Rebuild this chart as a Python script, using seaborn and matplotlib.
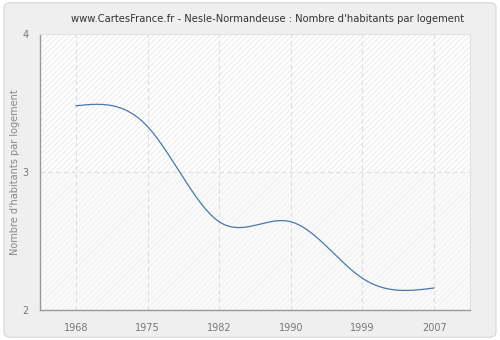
import numpy as np
import pandas as pd
import matplotlib
matplotlib.use("Agg")
import matplotlib.pyplot as plt
import seaborn as sns
from matplotlib.patches import Rectangle, FancyBboxPatch

# Census years and average number of inhabitants per dwelling
years = ["1968", "1975", "1982", "1990", "1999", "2007"]
habitants_par_logement = [3.48, 3.33, 2.64, 2.64, 2.23, 2.16]
y_ticks = [2, 3, 4]

title = "www.CartesFrance.fr - Nesle-Normandeuse : Nombre d'habitants par logement"
y_label = "Nombre d'habitants par logement"


def natural_cubic_spline(values, steps=40):
    """Smooth curve through equally spaced points (natural cubic spline)."""
    y = np.asarray(values, dtype=float)
    n = len(y)
    a = np.zeros((n, n))
    b = np.zeros(n)
    a[0, 0] = a[-1, -1] = 1.0
    for i in range(1, n - 1):
        a[i, i - 1], a[i, i], a[i, i + 1] = 1.0, 4.0, 1.0
        b[i] = 6.0 * (y[i + 1] - 2 * y[i] + y[i - 1])
    m = np.linalg.solve(a, b)
    xs, ys = [], []
    for i in range(n - 1):
        s = np.linspace(0, 1, steps, endpoint=(i == n - 2))
        r = 1 - s
        seg = (y[i] * r + y[i + 1] * s
               + (r ** 3 - r) * m[i] / 6 + (s ** 3 - s) * m[i + 1] / 6)
        xs.append(i + s)
        ys.append(seg)
    return np.concatenate(xs), np.concatenate(ys)


sns.set_theme(style="white")
plt.rcParams["font.family"] = ["DejaVu Sans"]
plt.rcParams["hatch.linewidth"] = 0.6

fig = plt.figure(figsize=(5.0, 3.4), dpi=100, facecolor="white")
fig.patches.append(FancyBboxPatch((0.008, 0.008), 0.984, 0.984,
                                  boxstyle="round,pad=0,rounding_size=0.015",
                                  transform=fig.transFigure, facecolor="#efefef",
                                  edgecolor="#dcdcdc", linewidth=1.0, zorder=-10))

ax = fig.add_axes([0.08, 0.088, 0.86, 0.812])
ax.set_facecolor("white")

x_pos = np.arange(len(years))
ax.set_xlim(-0.5, len(years) - 0.5)
ax.set_ylim(2, 4)

# Hatched background: stronger above 3, lighter below
ax.add_patch(Rectangle((-0.5, 3), len(years), 1, facecolor="white",
                       edgecolor="#e6e6e6", hatch="//////", linewidth=0, zorder=0))
ax.add_patch(Rectangle((-0.5, 2), len(years), 1, facecolor="#fafafa",
                       edgecolor="#f0f0f0", hatch="//////", linewidth=0, zorder=0))

# Grid
for xp in x_pos:
    ax.axvline(xp, color="#dedede", linestyle=(0, (4, 3)), linewidth=0.8, zorder=1)
ax.axhline(3, color="#dedede", linestyle=(0, (4, 3)), linewidth=0.8, zorder=1)

sx, sy = natural_cubic_spline(habitants_par_logement)
curve = pd.DataFrame({"x": sx, "y": sy})
sns.lineplot(data=curve, x="x", y="y", ax=ax, color="#4a78ad",
             linewidth=0.9, zorder=3, sort=False)

ax.set_xticks(x_pos)
ax.set_xticklabels(years)
ax.set_yticks(y_ticks)
ax.set_yticklabels([str(t) for t in y_ticks])
ax.set_xlabel("")
ax.set_ylabel(y_label, color="#888888", fontsize=7, labelpad=2)
ax.tick_params(axis="both", colors="#888888", labelcolor="#777777",
               labelsize=7, length=5, width=0.8, direction="out")
ax.tick_params(axis="x", pad=4)
ax.tick_params(axis="y", pad=3)

for side in ["left", "bottom"]:
    ax.spines[side].set_color("#999999")
    ax.spines[side].set_linewidth(1.0)
for side in ["top", "right"]:
    ax.spines[side].set_color("#e2e2e2")
    ax.spines[side].set_linewidth(0.8)

fig.text(0.535, 0.945, title, ha="center", va="center",
         fontsize=7.2, color="#333333")

fig.savefig("out.png", dpi=100, facecolor="white")
